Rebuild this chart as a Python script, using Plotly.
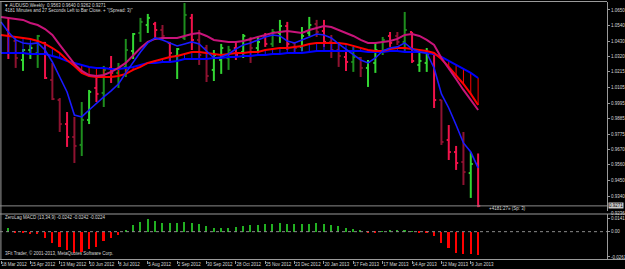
import plotly.graph_objects as go
import pandas as pd

# ---------------- data ----------------
week_dates = pd.date_range("2012-03-18", periods=66, freq="7D")   # w0..w65
bar_dates = week_dates[1:]                                         # 65 weekly bars

open_ = [1.0509,1.0432,1.0298,1.0368,1.0347,1.0418,1.0157,1.0016,0.9847,0.9756,
         0.9700,0.9876,1.0101,1.0066,1.0242,1.0207,1.0249,1.0361,1.0488,1.0544,
         1.0551,1.0509,1.0418,1.0326,1.0453,1.0594,1.0439,1.0382,1.0228,1.0298,
         1.0312,1.0382,1.0354,1.0439,1.0382,1.0467,1.0411,1.0488,1.0537,1.0418,
         1.0390,1.0488,1.0551,1.0502,1.0425,1.0368,1.0319,1.0284,1.0312,1.0242,
         1.0277,1.0354,1.0467,1.0467,1.0425,1.0495,1.0263,1.0277,1.0340,1.0016,
         0.9735,0.9650,0.9580,0.9502,0.9563]
high = [1.0594,1.0439,1.0375,1.0404,1.0474,1.0425,1.0277,1.0030,0.9932,0.9897,
        1.0002,1.0087,1.0192,1.0256,1.0326,1.0277,1.0446,1.0488,1.0594,1.0622,
        1.0566,1.0544,1.0425,1.0382,1.0699,1.0622,1.0509,1.0404,1.0368,1.0411,
        1.0397,1.0425,1.0481,1.0460,1.0467,1.0488,1.0516,1.0580,1.0566,1.0425,
        1.0530,1.0601,1.0580,1.0580,1.0474,1.0425,1.0368,1.0390,1.0319,1.0298,
        1.0418,1.0460,1.0495,1.0495,1.0636,1.0495,1.0354,1.0382,1.0347,1.0016,
        0.9840,0.9693,0.9791,0.9650,0.9640]
low = [1.0305,1.0242,1.0221,1.0305,1.0242,1.0164,1.0016,0.9791,0.9686,0.9573,
       0.9622,0.9847,1.0002,0.9967,1.0136,1.0101,1.0178,1.0305,1.0425,1.0488,
       1.0453,1.0439,1.0277,1.0164,1.0439,1.0368,1.0263,1.0143,1.0150,1.0200,
       1.0228,1.0298,1.0312,1.0277,1.0347,1.0390,1.0390,1.0418,1.0368,1.0354,
       1.0361,1.0467,1.0460,1.0390,1.0312,1.0249,1.0221,1.0214,1.0178,1.0108,
       1.0207,1.0333,1.0390,1.0404,1.0354,1.0277,1.0214,1.0214,0.9960,0.9700,
       0.9594,0.9524,0.9418,0.9327,0.9262]
close = [1.0347,1.0312,1.0368,1.0382,1.0467,1.0171,1.0023,0.9847,0.9756,0.9693,
         0.9876,1.0073,1.0059,1.0228,1.0207,1.0249,1.0368,1.0481,1.0566,1.0594,
         1.0509,1.0467,1.0347,1.0375,1.0615,1.0439,1.0333,1.0185,1.0333,1.0382,
         1.0368,1.0333,1.0467,1.0382,1.0425,1.0411,1.0495,1.0537,1.0411,1.0382,
         1.0467,1.0544,1.0495,1.0425,1.0368,1.0326,1.0284,1.0319,1.0242,1.0284,
         1.0368,1.0439,1.0418,1.0425,1.0509,1.0291,1.0291,1.0340,1.0016,0.9721,
         0.9650,0.9573,0.9509,0.9566,0.9271]
# bar colour class: L=lime, G=dark green, R=crimson, D=dark red
bar_class = list("RDLLGRDDRD" "GLRGRGGLGL" "RDRLGRDDLL" "GRLDLRGLRD"
                 "LLDRDDRGDL" "LGRDGRLLRD" "RRDLR")

# moving averages, one value per week w0..w65
ma_magenta = [1.0601,1.0594,1.0587,1.0580,1.0558,1.0544,1.0516,1.0474,1.0404,1.0333,
              1.0270,1.0221,1.0192,1.0185,1.0192,1.0214,1.0242,1.0277,1.0333,1.0382,
              1.0425,1.0446,1.0453,1.0453,1.0453,1.0467,1.0481,1.0488,1.0467,1.0439,
              1.0432,1.0425,1.0425,1.0432,1.0446,1.0460,1.0474,1.0488,1.0495,1.0502,
              1.0495,1.0488,1.0509,1.0523,1.0537,1.0530,1.0509,1.0488,1.0467,1.0439,
              1.0418,1.0418,1.0425,1.0432,1.0446,1.0474,1.0481,1.0467,1.0439,1.0404,
              1.0312,1.0242,1.0164,1.0087,1.0016,0.9946]
ma_red = [1.0474,1.0467,1.0460,1.0453,1.0446,1.0432,1.0411,1.0382,1.0347,1.0298,
          1.0256,1.0207,1.0185,1.0178,1.0178,1.0178,1.0185,1.0200,1.0228,1.0249,
          1.0277,1.0291,1.0305,1.0319,1.0326,1.0340,1.0354,1.0354,1.0347,1.0340,
          1.0333,1.0340,1.0347,1.0347,1.0354,1.0354,1.0368,1.0375,1.0382,1.0382,
          1.0390,1.0397,1.0411,1.0418,1.0418,1.0418,1.0418,1.0411,1.0397,1.0382,
          1.0368,1.0361,1.0361,1.0375,1.0382,1.0382,1.0375,1.0368,1.0361,1.0347,
          1.0305,1.0249,1.0192,1.0129,1.0059,0.9981]
ma_blue_slow = [1.0347,1.0347,1.0347,1.0347,1.0340,1.0340,1.0340,1.0326,1.0312,1.0291,
                1.0277,1.0263,1.0249,1.0242,1.0242,1.0235,1.0235,1.0242,1.0249,1.0263,
                1.0277,1.0277,1.0284,1.0284,1.0291,1.0305,1.0305,1.0305,1.0305,1.0312,
                1.0312,1.0319,1.0319,1.0326,1.0326,1.0333,1.0333,1.0340,1.0340,1.0347,
                1.0347,1.0347,1.0354,1.0361,1.0361,1.0361,1.0361,1.0361,1.0361,1.0361,
                1.0354,1.0354,1.0354,1.0361,1.0361,1.0354,1.0354,1.0354,1.0347,1.0340,
                1.0319,1.0291,1.0263,1.0235,1.0207,1.0171]
ma_blue_fast = [1.0566,1.0495,1.0439,1.0418,1.0411,1.0418,1.0368,1.0284,1.0178,1.0073,
                0.9910,0.9897,0.9946,0.9995,1.0038,1.0080,1.0129,1.0207,1.0284,1.0354,
                1.0418,1.0453,1.0439,1.0418,1.0397,1.0411,1.0425,1.0411,1.0361,1.0312,
                1.0319,1.0340,1.0375,1.0404,1.0418,1.0439,1.0460,1.0474,1.0467,1.0432,
                1.0418,1.0439,1.0460,1.0481,1.0474,1.0453,1.0411,1.0375,1.0340,1.0298,
                1.0277,1.0312,1.0361,1.0382,1.0390,1.0418,1.0375,1.0354,1.0347,1.0242,
                1.0059,0.9960,0.9840,0.9714,0.9650,0.9538]

# ZeroLag MACD histogram, w1..w65
macd_hist = [0.0041,-0.0005,-0.0010,-0.0021,-0.0021,-0.0062,-0.0113,-0.0155,-0.0185,-0.0216,
             -0.0206,-0.0175,-0.0155,-0.0093,-0.0062,-0.0031,0.0010,0.0072,0.0103,0.0134,
             0.0113,0.0093,0.0093,0.0093,0.0103,0.0093,0.0082,0.0060,0.0040,0.0035,
             0.0040,0.0050,0.0060,0.0065,0.0070,0.0075,0.0080,0.0085,0.0080,0.0075,
             0.0075,0.0080,0.0085,0.0080,0.0070,0.0055,0.0040,0.0025,0.0010,-0.0005,
             -0.0005,0.0005,0.0010,0.0010,0.0015,0.0005,-0.0005,-0.0010,-0.0040,-0.0113,
             -0.0165,-0.0216,-0.0230,-0.0232,-0.0242]

price_ticks = [1.0650,1.0540,1.0430,1.0320,1.0215,1.0105,0.9995,0.9885,0.9775,0.9670,0.9560,0.9450,0.9340]
price_tick_text = ["1.0650","1.0540","1.0430","1.0320","1.0215","1.0105","0.9995","0.9885",
                   "0.9775","0.9670","0.9560","0.9450","0.9340"]
macd_ticks = [0.0141, 0.0, -0.0261]
macd_tick_text = ["0.0141", "0.00", "-0.0261"]
date_tick_text = ["18 Mar 2012","15 Apr 2012","13 May 2012","10 Jun 2012","8 Jul 2012",
                  "5 Aug 2012","2 Sep 2012","30 Sep 2012","28 Oct 2012","25 Nov 2012",
                  "23 Dec 2012","20 Jan 2013","17 Feb 2013","17 Mar 2013","14 Apr 2013",
                  "12 May 2013","9 Jun 2013"]
date_tick_vals = list(week_dates[0::4][:len(date_tick_text)])

last_price = 0.9271
window_low = 0.9236
title1 = "\u25bc AUDUSD,Weekly  0.9563 0.9640 0.9262 0.9271"
title2 = "4181 Minutes and 27 Seconds Left to Bar Close. + \"(Spread: 3)\""
timer_text = "+4181:27\u00bb (Sp: 3)"
macd_title = "ZeroLag MACD (13,34,9) -0.0242 -0.0242 -0.0224"
credit = "3Fit Trader, \u00a9 2001-2013, MetaQuotes Software Corp."

for s in (high, low, close, bar_class, macd_hist):
    assert len(s) == len(open_)
for s in (ma_magenta, ma_red, ma_blue_slow, ma_blue_fast):
    assert len(s) == len(week_dates)

# ---------------- style ----------------
W, H = 625, 269
PLOT_W = 607
PLOT_H = 260
FG = "#D8D8D8"
AX = "#9A9A9A"
FONT = "Liberation Sans"
FS = 4.5
colors = {"L": "#33D633", "G": "#1E8E1E", "R": "#F0124A", "D": "#8E1230"}
tick_off = pd.Timedelta(days=2)

def py(px):  # pixel row -> paper y
    return (PLOT_H - px) / PLOT_H

fig = go.Figure()

# OHLC bars grouped by colour
for cls, col in colors.items():
    xs, ys = [], []
    for d, o, h, l, c, k in zip(bar_dates, open_, high, low, close, bar_class):
        if k != cls:
            continue
        xs += [d, d, None, d - tick_off, d, None, d, d + tick_off, None]
        ys += [h, l, None, o, o, None, c, c, None]
    fig.add_trace(go.Scatter(x=xs, y=ys, mode="lines", line=dict(color=col, width=2),
                             hoverinfo="skip", showlegend=False, xaxis="x", yaxis="y"))

# hatching between red and slow blue lines
for want_blue, col in ((True, "#1010FF"), (False, "#FF0000")):
    xs, ys = [], []
    for d, r, b in zip(week_dates, ma_red, ma_blue_slow):
        if (r > b) == want_blue:
            xs += [d, d, None]
            ys += [r, b, None]
    fig.add_trace(go.Scatter(x=xs, y=ys, mode="lines", line=dict(color=col, width=1),
                             hoverinfo="skip", showlegend=False, xaxis="x", yaxis="y"))

for vals, col, wd in ((ma_blue_slow, "#0000FF", 2), (ma_red, "#FF0000", 2),
                      (ma_magenta, "#C8147A", 2), (ma_blue_fast, "#1A1AFF", 1.6)):
    fig.add_trace(go.Scatter(x=list(week_dates), y=vals, mode="lines",
                             line=dict(color=col, width=wd), hoverinfo="skip",
                             showlegend=False, xaxis="x", yaxis="y"))

# MACD histogram
fig.add_trace(go.Bar(x=list(bar_dates), y=macd_hist,
                     marker=dict(color=["#22B022" if v >= 0 else "#FF0000" for v in macd_hist],
                                 line=dict(width=0)),
                     width=1.5 * 24 * 3600 * 1000, hoverinfo="skip", showlegend=False,
                     xaxis="x2", yaxis="y2"))

x0 = week_dates[0] - pd.Timedelta(days=0.95)
x1 = week_dates[0] + pd.Timedelta(days=577.9)

main_dom = [py(211), py(2)]
sub_dom = [0, py(214)]

fig.update_layout(
    width=W, height=H, margin=dict(l=0, r=W - PLOT_W, t=0, b=H - PLOT_H),
    paper_bgcolor="#000000", plot_bgcolor="#000000",
    font=dict(family=FONT, size=FS, color=FG),
    bargap=0,
    xaxis=dict(type="date", range=[x0, x1], domain=[0, 1], anchor="y",
               showticklabels=False, showgrid=False, zeroline=False, showline=False, ticks=""),
    xaxis2=dict(type="date", range=[x0, x1], domain=[0, 1], anchor="y2", matches="x",
                tickvals=date_tick_vals, ticktext=date_tick_text, ticks="outside",
                ticklen=3, tickwidth=1, tickcolor=AX, ticklabelposition="outside right",
                tickangle=0, automargin=False,
                tickfont=dict(size=FS, color=FG, family=FONT),
                showgrid=False, zeroline=False, showline=False),
    yaxis=dict(domain=main_dom, range=[0.9235, 1.0706], side="right", anchor="x",
               tickvals=price_ticks, ticktext=price_tick_text, ticks="outside", ticklen=2,
               tickcolor=AX, showline=True, linecolor=AX, linewidth=1, automargin=False,
               showgrid=False, zeroline=False, tickfont=dict(size=FS, color=FG, family=FONT)),
    yaxis2=dict(domain=sub_dom, range=[-0.0292, 0.01822], side="right", anchor="x2",
                tickvals=macd_ticks, ticktext=macd_tick_text, ticks="outside", ticklen=2,
                tickcolor=AX, showline=True, linecolor=AX, linewidth=1, automargin=False,
                showgrid=False, zeroline=False, tickfont=dict(size=FS, color=FG, family=FONT)),
)

shapes = [
    # frame: top, left, separators, bottom
    dict(type="line", xref="paper", yref="paper", x0=0, x1=1, y0=py(1.5), y1=py(1.5),
         line=dict(color=AX, width=1)),
    dict(type="line", xref="paper", yref="paper", x0=0.0015, x1=0.0015, y0=py(1.5), y1=py(260),
         line=dict(color=AX, width=1)),
    dict(type="line", xref="paper", yref="paper", x0=0, x1=W / PLOT_W, y0=py(214), y1=py(214),
         line=dict(color=AX, width=1)),
    dict(type="line", xref="paper", yref="paper", x0=0, x1=W / PLOT_W, y0=py(259.5), y1=py(259.5),
         line=dict(color=AX, width=1)),
    # bid line
    dict(type="line", xref="paper", yref="y", x0=0, x1=1, y0=last_price, y1=last_price,
         line=dict(color="#8A8A8A", width=1)),
    # MACD zero line
    dict(type="line", xref="paper", yref="y2", x0=0, x1=1, y0=0, y1=0,
         line=dict(color="#8A8A8A", width=1, dash="dot")),
]
fig.update_layout(shapes=shapes)

ann = [
    dict(text=title1, x=2 / PLOT_W, y=py(5), xanchor="left", yanchor="middle"),
    dict(text=title2, x=3 / PLOT_W, y=py(11), xanchor="left", yanchor="middle"),
    dict(text=macd_title, x=3 / PLOT_W, y=py(217.5), xanchor="left", yanchor="middle"),
    dict(text=credit, x=3 / PLOT_W, y=py(253), xanchor="left", yanchor="middle"),
    dict(text=timer_text, x=487 / PLOT_W, y=py(208.5), xanchor="left", yanchor="middle"),
    dict(text=f"{window_low:.4f}", x=1.004, y=py(213), xanchor="left", yanchor="middle"),
]
for a in ann:
    a.update(xref="paper", yref="paper", showarrow=False,
             font=dict(size=FS, color=FG, family=FONT))
ann.append(dict(text=f"{last_price:.4f}", x=1.002, y=last_price, xref="paper", yref="y",
                xanchor="left", yanchor="middle", showarrow=False, bgcolor="#C8C8C8",
                borderpad=0, font=dict(size=FS, color="#000000", family=FONT)))
fig.update_layout(annotations=ann)

fig.write_html("out.html")
